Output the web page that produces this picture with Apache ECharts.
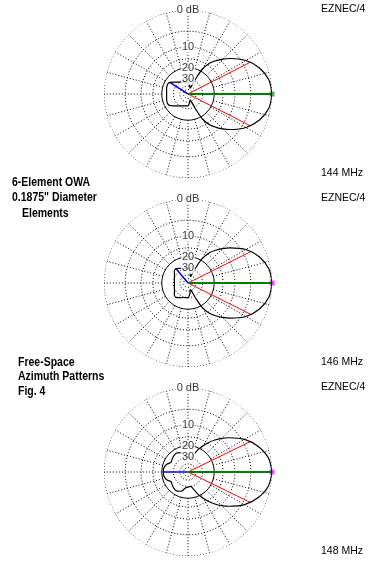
<!DOCTYPE html>
<html>
<head>
<meta charset="utf-8">
<title>6-Element OWA - Free-Space Azimuth Patterns</title>
<script src="https://cdn.jsdelivr.net/npm/echarts@6/dist/echarts.min.js"></script>
<style>
html, body { margin: 0; padding: 0; background: #fff; }
#chart { width: 376px; height: 567px; }
</style>
</head>
<body>
<div id="chart"></div>
<script>
// pattern values in dB, half pattern (the other half is the mirror image)
var angles = [0, 10, 20, 30, 40, 45, 50, 55, 60, 63, 66, 70, 80, 90, 100, 110, 120, 130, 140, 150, 160, 170, 180];
var db144 = [0, -0.4, -1.7, -3.9, -7.2, -9.1, -11.3, -13.8, -18.5, -26.6, -38.5, -45, -38.5, -33.6, -33.3, -32.5, -31.1, -29, -26, -22.8, -22.6, -23.2, -23.5];
var db146 = [0, -0.4, -1.7, -3.9, -7.4, -9.4, -11.6, -14.2, -19, -27, -38.5, -42.8, -35, -29.8, -29.8, -29.1, -27.6, -25.7, -26.6, -28.9, -30.2, -31, -31.3];
var db148 = [0, -0.5, -2, -4.3, -7.8, -9.8, -12, -14.5, -17.5, -19.3, -21.3, -24.5, -30, -29.5, -28, -24.2, -22.9, -23.3, -24.2, -25, -22.5, -21.2, -21];

var bands = ['144 MHz', '146 MHz', '148 MHz'];
var halfBeam = [27, 26.5, 26];        // -3 dB points
var backAngle = [147, 130, 180];      // blue line
var backDb = [-23, -25.7, -21];

var ringLevels = [0, -5, -10, -15, -30, -40, -50];
var solidRing = -20;
var ringLabels = ['0 dB', '10', '20', '30'];
var ringLabelDb = [0, -10, -20, -30];
var spokeStep = 15;

var centerX = 188;
var centersY = [94, 283, 472];
var plotRadius = 84;

// ARRL log scale: 2 dB per 0.89 of radius
function arrl(db) { return Math.pow(0.89, -db / 2); }

function fullPattern(dbs) {
  var pts = [];
  for (var i = 0; i < angles.length; i++) pts.push([arrl(dbs[i]), angles[i]]);
  for (var j = angles.length - 2; j >= 0; j--) pts.push([arrl(dbs[j]), 360 - angles[j]]);
  return pts;
}

function ring(db) {
  var pts = [];
  for (var a = 0; a <= 360; a += 2) pts.push([arrl(db), a]);
  return pts;
}

var patterns = [db144, db146, db148];
var polar = [], angleAxis = [], radiusAxis = [], series = [];
var hidden = { show: false };
var dots = { color: '#000', width: 1, type: [1, 2] };

centersY.forEach(function (cy, p) {
  polar.push({ center: [centerX, cy], radius: plotRadius });
  angleAxis.push({
    polarIndex: p, type: 'value', min: 0, max: 360, startAngle: 0, clockwise: false,
    axisLine: hidden, axisTick: hidden, axisLabel: hidden, splitLine: hidden
  });
  radiusAxis.push({
    polarIndex: p, type: 'value', min: 0, max: 1,
    axisLine: hidden, axisTick: hidden, axisLabel: hidden, splitLine: hidden
  });

  var base = { type: 'line', coordinateSystem: 'polar', polarIndex: p, showSymbol: false,
    silent: true, animation: false };

  ringLevels.forEach(function (lv) {
    series.push(Object.assign({}, base, { data: ring(lv), lineStyle: dots }));
  });
  for (var a = 0; a < 360; a += spokeStep) {
    series.push(Object.assign({}, base, {
      data: [[arrl(solidRing), a], [1, a]], lineStyle: dots
    }));
  }
  series.push(Object.assign({}, base, {
    data: ring(solidRing), lineStyle: { color: '#000', width: 1 }
  }));

  // beamwidth, max and back lines
  [halfBeam[p], 360 - halfBeam[p]].forEach(function (ang) {
    series.push(Object.assign({}, base, {
      data: [[0, ang], [arrl(-3), ang]], lineStyle: { color: '#ff0000', width: 1 }
    }));
  });
  series.push(Object.assign({}, base, {
    data: [[0, backAngle[p]], [arrl(backDb[p]), backAngle[p]]],
    lineStyle: { color: '#0000ff', width: 1.5 }
  }));
  series.push(Object.assign({}, base, {
    data: [[0, 0], [1, 0]], lineStyle: { color: '#008000', width: 2 }
  }));

  series.push(Object.assign({}, base, {
    data: fullPattern(patterns[p]), smooth: 0.3,
    lineStyle: { color: '#000', width: 1.2 }
  }));

  series.push({
    type: 'scatter', coordinateSystem: 'polar', polarIndex: p, silent: true, animation: false,
    symbol: 'rect', symbolSize: 5, itemStyle: { color: p === 0 ? '#408040' : '#ff00ff' },
    data: [[1, 0]]
  });

  series.push({
    type: 'scatter', coordinateSystem: 'polar', polarIndex: p, silent: true, animation: false,
    symbolSize: 1, z: 10, itemStyle: { color: 'rgba(0,0,0,0)' },
    data: ringLabelDb.map(function (d, k) { return { value: [arrl(d), 90], name: ringLabels[k] }; }),
    label: {
      show: true, position: 'inside', formatter: '{b}', color: '#000',
      fontFamily: 'Liberation Sans, Arial, sans-serif', fontSize: 11,
      backgroundColor: '#fff', padding: [0, 1]
    }
  });
});

var txt = function (x, y, s, bold) {
  return { type: 'text', left: x, top: y, silent: true, scaleX: bold ? 0.84 : 1,
    style: { text: s, fill: '#000', font: (bold ? 'bold 12.5px' : '10.5px') + ' "Liberation Sans", Arial, sans-serif' } };
};

var graphic = [
  txt(12, 176, '6-Element OWA', true),
  txt(12, 191, '0.1875" Diameter', true),
  txt(22, 207, 'Elements', true),
  txt(18, 356, 'Free-Space', true),
  txt(18, 370, 'Azimuth Patterns', true),
  txt(18, 385, 'Fig. 4', true)
];
centersY.forEach(function (cy, p) {
  graphic.push(txt(321, cy - 90, 'EZNEC/4', false));
  graphic.push(txt(321, cy + 74, bands[p], false));
});

var chart = echarts.init(document.getElementById('chart'));
chart.setOption({
  backgroundColor: '#fff',
  animation: false,
  polar: polar,
  angleAxis: angleAxis,
  radiusAxis: radiusAxis,
  series: series,
  graphic: graphic
});
</script>
</body>
</html>
